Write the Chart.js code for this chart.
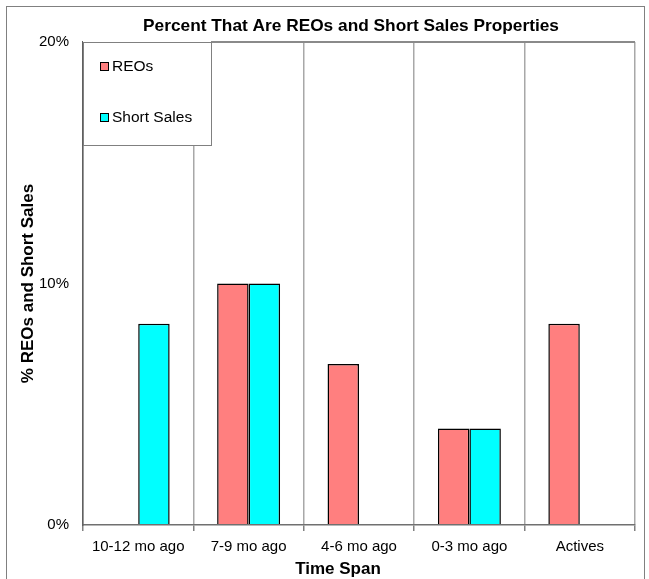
<!DOCTYPE html>
<html><head><meta charset="utf-8">
<script src="https://cdn.jsdelivr.net/npm/chart.js@4.4.0/dist/chart.umd.min.js"></script>
<style>html,body{margin:0;padding:0;background:#fff;}#wrap{width:649px;height:579px;position:relative;}</style>
</head><body><div id="wrap"><canvas id="c" width="649" height="579"></canvas></div>
<script>
const categories = ["10-12 mo ago", "7-9 mo ago", "4-6 mo ago", "0-3 mo ago", "Actives"];
const reoValues = [0, 0.10, 0.0667, 0.04, 0.0833];
const shortSaleValues = [0.0833, 0.10, 0, 0.04, 0];
const yTicks = [0, 0.1, 0.2];
const seriesNames = ["REOs", "Short Sales"];
const seriesColors = ["#FF7F7F", "#00FFFF"];
const chartTitle = "Percent That Are REOs and Short Sales Properties";
const xTitle = "Time Span";
const yTitle = "% REOs and Short Sales";

const FONT = "'Liberation Sans', Arial, sans-serif";

const framePlugin = {
  id: 'frame',
  beforeDraw(chart) {
    const ctx = chart.ctx;
    ctx.save();
    ctx.strokeStyle = '#808080';
    ctx.lineWidth = 1;
    ctx.strokeRect(6.5, 6.5, 638, 600);
    ctx.restore();
  },
  afterDraw(chart) {
    const ctx = chart.ctx;
    const a = chart.chartArea;
    ctx.save();
    // titles
    ctx.fillStyle = '#000';
    ctx.textAlign = 'center';
    ctx.textBaseline = 'alphabetic';
    ctx.font = 'bold 17.3px ' + FONT;
    ctx.fillText(chartTitle, 351, 31);
    ctx.font = 'bold 17px ' + FONT;
    ctx.fillText(xTitle, 338, 574);
    // legend
    ctx.textAlign = 'left';
    const bx = a.left, by = a.top, bw = 128, bh = 103;
    ctx.fillStyle = '#fff';
    ctx.fillRect(bx, by - 1, bw, bh + 1);
    ctx.strokeStyle = '#808080';
    ctx.lineWidth = 1;
    ctx.strokeRect(bx + 0.5, by + 0.5, bw, bh);
    const rows = [by + 25, by + 76];
    chart.data.datasets.forEach((ds, i) => {
      const y = rows[i];
      ctx.fillStyle = ds.backgroundColor;
      ctx.fillRect(bx + 17, y - 5, 9, 9);
      ctx.strokeStyle = '#000';
      ctx.strokeRect(bx + 17.5, y - 4.5, 8, 8);
      ctx.fillStyle = '#000';
      ctx.font = '15.5px ' + FONT;
      ctx.textBaseline = 'middle';
      ctx.fillText(ds.label, bx + 29, y);
    });
    ctx.restore();
  }
};

new Chart(document.getElementById('c'), {
  type: 'bar',
  data: {
    labels: categories,
    datasets: [
      { label: seriesNames[0], data: reoValues, backgroundColor: seriesColors[0], borderColor: '#000', borderWidth: 1.5 },
      { label: seriesNames[1], data: shortSaleValues, backgroundColor: seriesColors[1], borderColor: '#000', borderWidth: 1.5 }
    ]
  },
  options: {
    responsive: false,
    animation: false,
    layout: { padding: { left: 7, right: 14, top: 42, bottom: 0 } },
    datasets: { bar: { categoryPercentage: 0.57, barPercentage: 1.0 } },
    plugins: {
      legend: { display: false },
      tooltip: { enabled: false },
      title: { display: false }
    },
    scales: {
      x: {
        grid: { display: true, offset: true, color: '#a8a8a8', lineWidth: 1.5, drawTicks: true, tickLength: 6, tickColor: '#808080' },
        border: { display: true, color: '#707070', width: 1.5 },
        ticks: { color: '#000', font: { family: FONT, size: 15 }, padding: 7, maxRotation: 0 },
        title: { display: false },
        afterFit(s) { s.height = 54; }
      },
      y: {
        min: 0, max: 0.2,
        afterBuildTicks(s) { s.ticks = yTicks.map(v => ({ value: v })); },
        grid: {
          drawTicks: false,
          lineWidth: 2,
          color: ctx => (ctx.tick && ctx.tick.value === 0.2) ? '#8a8a8a' : 'rgba(0,0,0,0)'
        },
        border: { display: true, color: '#606060', width: 1.5 },
        ticks: { color: '#000', font: { family: FONT, size: 15 }, padding: 14, callback: v => Math.round(v * 100) + '%' },
        title: { display: true, text: yTitle, color: '#000', font: { family: FONT, size: 17, weight: 'bold' }, padding: { top: 11, bottom: 0 } },
        afterFit(s) { s.width = 76; }
      }
    }
  },
  plugins: [framePlugin]
});
</script></body></html>
